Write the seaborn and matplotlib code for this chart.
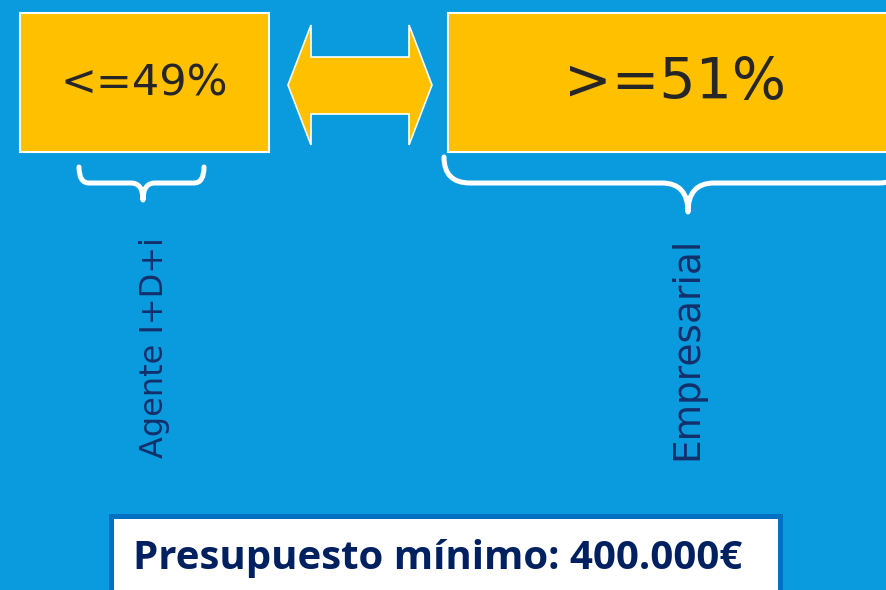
import matplotlib
matplotlib.use("Agg")
import matplotlib.pyplot as plt
import seaborn as sns
from matplotlib.patches import Rectangle, Polygon, PathPatch
from matplotlib.path import Path

# datos del esquema
shares = [49, 51]
share_labels = ["<=%d%%" % shares[0], ">=%d%%" % shares[1]]
roles = ["Agente I+D+i", "Empresarial"]
budget = 400000

bg = "#0A9BDE"
gold = "#FFC000"
navy = "#13306B"

sns.set_theme(style="white")
plt.rcParams["font.family"] = ["DejaVu Sans"]

fig = plt.figure(figsize=(8.86, 5.90), dpi=100, facecolor=bg)
ax = fig.add_axes([0, 0, 1, 1])
ax.set_facecolor(bg)
ax.set_xlim(0, 886)
ax.set_ylim(590, 0)
ax.axis("off")

# cajas de porcentaje
ax.add_patch(Rectangle((20, 13), 249, 139, facecolor=gold, edgecolor="white", lw=1.5))
ax.add_patch(Rectangle((448, 13), 460, 139, facecolor=gold, edgecolor="white", lw=1.5))
ax.text(144, 84, share_labels[0], fontsize=31, color="#262626", ha="center", va="center")
ax.text(675, 83, share_labels[1], fontsize=41, color="#262626", ha="center", va="center")

# flecha doble
arrow = [(288, 85), (311, 25), (311, 57), (409, 57), (409, 25), (432, 85),
         (409, 145), (409, 114), (311, 114), (311, 145)]
ax.add_patch(Polygon(arrow, closed=True, facecolor=gold, edgecolor="white", lw=1.2))


def brace(x0, x1, xm, ytop, yline, ytip, r, r2):
    verts = [(x0, ytop), (x0, yline), (x0 + r, yline),
             (xm - r2, yline), (xm, yline), (xm, ytip),
             (xm, yline), (xm + r2, yline),
             (x1 - r, yline), (x1, yline), (x1, ytop)]
    codes = [Path.MOVETO, Path.CURVE3, Path.CURVE3,
             Path.LINETO, Path.CURVE3, Path.CURVE3,
             Path.CURVE3, Path.CURVE3,
             Path.LINETO, Path.CURVE3, Path.CURVE3]
    ax.add_patch(PathPatch(Path(verts, codes), facecolor="none", edgecolor="white",
                           lw=3.6, capstyle="round", joinstyle="round"))


brace(79, 204, 143, 167, 183, 200, 10, 12)
brace(444, 905, 688, 157, 183, 212, 26, 26)

# etiquetas verticales
ax.text(155, 348, roles[0], fontsize=23, color=navy, rotation=90, ha="center", va="center")
ax.text(687, 348, roles[1], fontsize=27, color=navy, rotation=90, ha="center", va="center")

# recuadro de presupuesto
ax.add_patch(Rectangle((111, 516), 669, 100, facecolor="white", edgecolor="#0070C0", lw=3.6))
txt = "Presupuesto mínimo: %s€" % format(budget, ",").replace(",", ".")
ax.text(133, 558, txt, fontsize=29, fontweight="bold", color="#002060",
        ha="left", va="center", family=["Open Sans", "DejaVu Sans"])

fig.savefig("out.png", dpi=100, facecolor=bg)
